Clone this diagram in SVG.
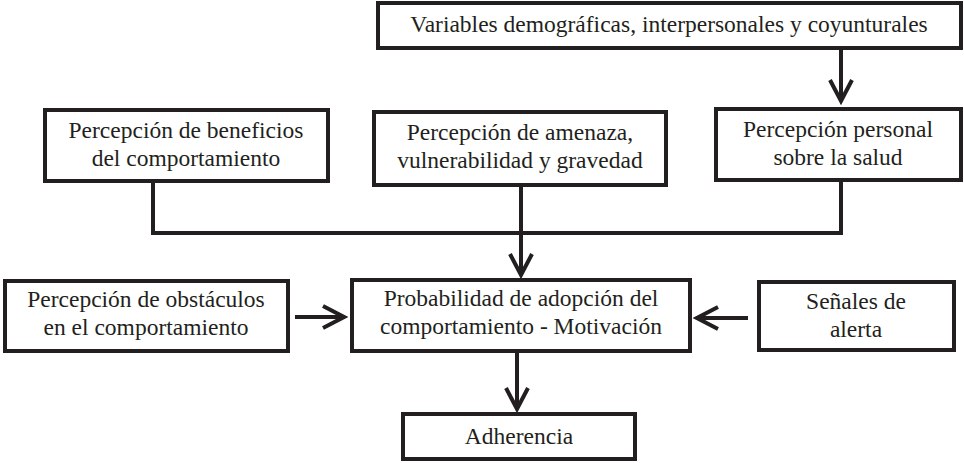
<svg xmlns="http://www.w3.org/2000/svg" width="964" height="463" viewBox="0 0 964 463">
<style>
.box{fill:#fff;stroke:#231f20;stroke-width:4}
.t{font-family:"Liberation Serif","Times New Roman",serif;font-size:23.5px;fill:#231f20;text-anchor:middle}
.c{fill:none;stroke:#231f20;stroke-width:4}
</style>
<defs>
<marker id="ah" markerUnits="userSpaceOnUse" viewBox="-26 -14 30 28" refX="0" refY="0" markerWidth="30" markerHeight="28" orient="auto">
<path d="M-21,-11 L0,0 L-21,11" fill="none" stroke="#231f20" stroke-width="4"/>
</marker>
</defs>
<rect width="964" height="463" fill="#fff"/>
<g id="connectors">
<path class="c" d="M841,49 V101" marker-end="url(#ah)"/>
<path class="c" d="M153,183 V233 H841 V182"/>
<path class="c" d="M521,187 V275" marker-end="url(#ah)"/>
<path class="c" d="M295,317 H344" marker-end="url(#ah)"/>
<path class="c" d="M748,318 H697" marker-end="url(#ah)"/>
<path class="c" d="M517,353 V409" marker-end="url(#ah)"/>
</g>
<g id="variables">
<rect class="box" x="378" y="3" width="583" height="45"/>
<text class="t" x="669" y="32">Variables demográficas, interpersonales y coyunturales</text>
</g>
<g id="beneficios">
<rect class="box" x="45" y="110" width="283" height="71"/>
<text class="t" x="186" y="138">Percepción de beneficios</text>
<text class="t" x="186" y="166">del comportamiento</text>
</g>
<g id="amenaza">
<rect class="box" x="374" y="112" width="292" height="73"/>
<text class="t" x="520" y="140">Percepción de amenaza,</text>
<text class="t" x="520" y="168">vulnerabilidad y gravedad</text>
</g>
<g id="personal">
<rect class="box" x="716" y="109" width="245" height="71"/>
<text class="t" x="838" y="137">Percepción personal</text>
<text class="t" x="838" y="165">sobre la salud</text>
</g>
<g id="obstaculos">
<rect class="box" x="5" y="281" width="283" height="70"/>
<text class="t" x="146" y="307">Percepción de obstáculos</text>
<text class="t" x="146" y="335">en el comportamiento</text>
</g>
<g id="probabilidad">
<rect class="box" x="352" y="280" width="338" height="71"/>
<text class="t" x="521" y="306">Probabilidad de adopción del</text>
<text class="t" x="521" y="334">comportamiento - Motivación</text>
</g>
<g id="senales">
<rect class="box" x="759" y="282" width="195" height="68"/>
<text class="t" x="856" y="309">Señales de</text>
<text class="t" x="856" y="337">alerta</text>
</g>
<g id="adherencia">
<rect class="box" x="403" y="414" width="232" height="45"/>
<text class="t" x="519" y="444">Adherencia</text>
</g>
</svg>
